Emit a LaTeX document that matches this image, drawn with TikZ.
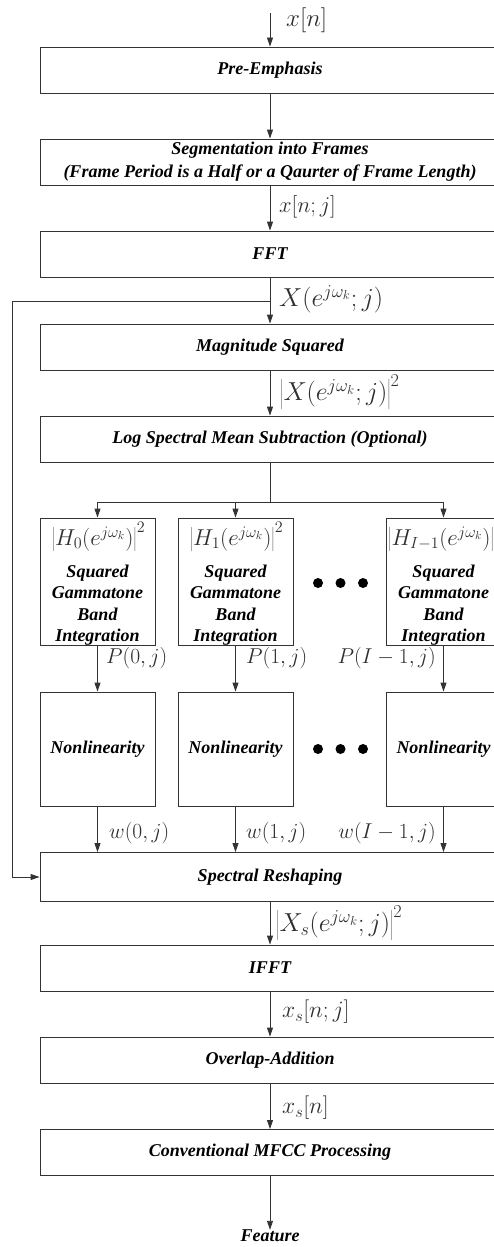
\RequirePackage{fix-cm}
\documentclass[tikz,border=0pt]{standalone}
\usepackage{fontspec}
\setmainfont{Liberation Serif}
\usetikzlibrary{arrows.meta}
\newcommand\txtfont{\fontsize{18}{21.5}\selectfont\bfseries\itshape}
\newcommand\labsize[1]{\fontsize{#1}{#1}\selectfont}
\begin{document}
\begin{tikzpicture}[x=1pt,y=-1pt,
  line/.style={draw=black!80, line width=0.9pt},
  arr/.style={line, -{Triangle[length=9pt,width=6pt]}},
  box/.style={line, rectangle, minimum width=460pt, minimum height=46pt, inner sep=0pt, font=\txtfont, text=black, align=center},
  fbox/.style={line, rectangle, minimum width=115pt, minimum height=127pt, inner sep=0pt},
  nbox/.style={line, rectangle, minimum width=115pt, minimum height=114pt, inner sep=0pt, font=\txtfont, text=black},
  gtxt/.style={inner sep=0pt, font=\txtfont, text=black, align=center},
  lab/.style={inner sep=0pt, text=black!82},
  dot/.style={fill=black}]
\useasboundingbox (0,0) rectangle (494,1247);
\clip (0,0) rectangle (494,1247);

% main boxes
\node[box] (pre) at (270,70) {Pre-Emphasis};
\node[box, font=\fontsize{18}{23}\selectfont\bfseries\itshape] (seg) at (270,162) {Segmentation into Frames\\(Frame Period is a Half or a Qaurter of Frame Length)};
\node[box] (fft) at (270,254) {FFT};
\node[box] (mag) at (270,347) {Magnitude Squared};
\node[box] (lsms) at (270,439) {Log Spectral Mean Subtraction (Optional)};

% filter boxes
\node[fbox] (f0) at (97.5,581.5) {};
\node[fbox] (f1) at (235.5,581.5) {};
\node[fbox] (f2) at (443.5,581.5) {};
\node[lab, font=\labsize{23}] (h0) at (98.5,537) {$\left|H_0(e^{j\omega_k})\right|^2$};
\node[lab, font=\labsize{23}] (h1) at (236.5,537) {$\left|H_1(e^{j\omega_k})\right|^2$};
\node[lab, font=\labsize{23}, anchor=west] (h2) at (388,537) {$\left|H_{I-1}(e^{j\omega_k})\right|^2$};
\node[gtxt] (g0) at (97.5,605) {Squared\\Gammatone\\Band\\Integration};
\node[gtxt] (g1) at (235.5,605) {Squared\\Gammatone\\Band\\Integration};
\node[gtxt] (g2) at (443.5,605) {Squared\\Gammatone\\Band\\Integration};

% nonlinearity boxes
\node[nbox] (n0) at (97.5,749) {Nonlinearity};
\node[nbox] (n1) at (235.5,749) {Nonlinearity};
\node[nbox] (n2) at (443.5,749) {Nonlinearity};

% dots
\fill[dot] (318,583) circle (5pt);
\fill[dot] (340.5,583) circle (5pt);
\fill[dot] (363,583) circle (5pt);
\fill[dot] (318,749) circle (5pt);
\fill[dot] (340.5,749) circle (5pt);
\fill[dot] (363,749) circle (5pt);

\node[box, minimum height=49pt] (spec) at (270,877) {Spectral Reshaping};
\node[box] (ifft) at (270,968) {IFFT};
\node[box] (ola) at (270,1060) {Overlap-Addition};
\node[box] (mfcc) at (270,1152.5) {Conventional MFCC Processing};
\node[gtxt] (feat) at (270,1236) {Feature};

% coordinates
\coordinate (in) at (270,13);
\coordinate (fb) at (270,301);
\coordinate (fbl) at (12,301);
\coordinate (jn) at (270,502);

% connectors
\draw[arr] (in) -- (pre);
\draw[arr] (pre) -- (seg);
\draw[arr] (seg) -- (fft);
\draw[arr] (fft) -- (mag);
\draw[arr] (mag) -- (lsms);
\draw[line] (lsms.south) -- (jn);
\draw[line] (f0.north |- jn) -- (f2.north |- jn);
\draw[arr] (f0.north |- jn) -- (f0.north);
\draw[arr] (f1.north |- jn) -- (f1.north);
\draw[arr] (f2.north |- jn) -- (f2.north);
\draw[arr] (f0) -- (n0);
\draw[arr] (f1) -- (n1);
\draw[arr] (f2) -- (n2);
\draw[arr] (n0.south) -- (n0.south |- spec.north);
\draw[arr] (n1.south) -- (n1.south |- spec.north);
\draw[arr] (n2.south) -- (n2.south |- spec.north);
\draw[arr] (fb) -- (fbl) |- (spec.west);
\draw[arr] (spec) -- (ifft);
\draw[arr] (ifft) -- (ola);
\draw[arr] (ola) -- (mfcc);
\draw[arr] (mfcc) -- (feat);

% labels
\node[lab, font=\labsize{25}, anchor=west] (lxn) at (286,20) {$x[n]$};
\node[lab, font=\labsize{22.5}, anchor=west] (lxnj) at (279,207) {$x[n;j]$};
\node[lab, font=\labsize{26}, anchor=west] (lX) at (279,299) {$X(e^{j\omega_k};j)$};
\node[lab, font=\labsize{26}, anchor=west] (lX2) at (280,392) {$\left|X(e^{j\omega_k};j)\right|^2$};
\node[lab, font=\labsize{21.5}, anchor=west] (p0) at (106,658) {$P(0,j)$};
\node[lab, font=\labsize{21.5}, anchor=west] (p1) at (246,658) {$P(1,j)$};
\node[lab, font=\labsize{21.5}, anchor=east] (p2) at (436,658) {$P(I-1,j)$};
\node[lab, font=\labsize{21.5}, anchor=west] (w0) at (109,833) {$w(0,j)$};
\node[lab, font=\labsize{21.5}, anchor=west] (w1) at (246,833) {$w(1,j)$};
\node[lab, font=\labsize{21.5}, anchor=east] (w2) at (436,833) {$w(I-1,j)$};
\node[lab, font=\labsize{26}, anchor=west] (lXs) at (276,923) {$\left|X_s(e^{j\omega_k};j)\right|^2$};
\node[lab, font=\labsize{23.5}, anchor=west] (lxs) at (282,1012) {$x_s[n;j]$};
\node[lab, font=\labsize{23.5}, anchor=west] (lxsn) at (282,1108) {$x_s[n]$};
\end{tikzpicture}
\end{document}
